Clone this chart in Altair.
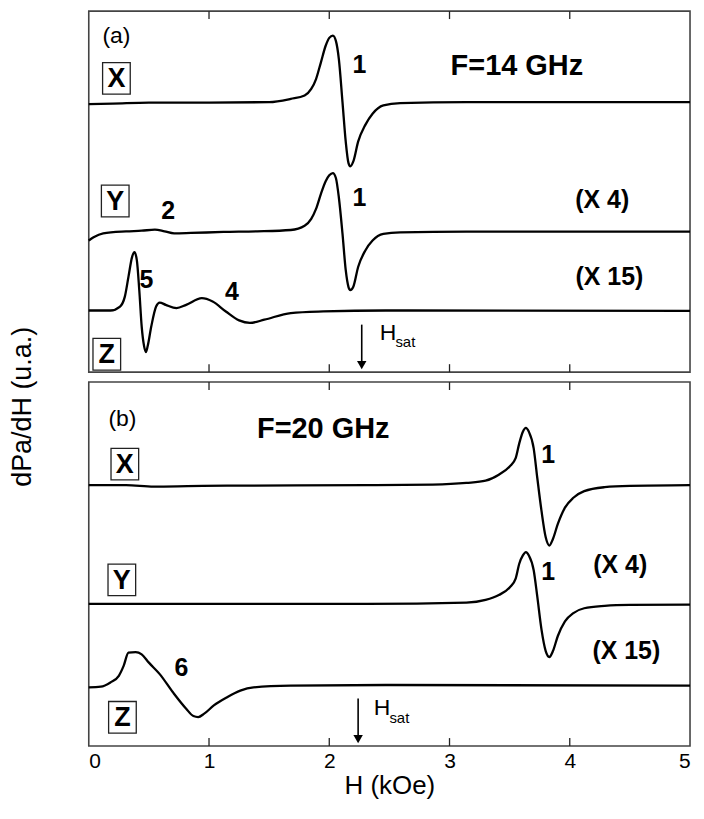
import altair as alt
import pandas as pd

FONT = "Liberation Sans"

# ---------------- data (H in kOe, signal in arbitrary units) ----------------
# Panel (a) F = 14 GHz
A_X_H = [0, 0.2, 0.5, 1.0, 1.5, 1.68, 1.795, 1.85, 1.89, 1.93, 1.97, 2.0, 2.03, 2.055, 2.08,
         2.11, 2.137, 2.16, 2.175, 2.2, 2.24, 2.3, 2.36, 2.45, 2.59, 3.14, 5.0]
A_X_V = [271, 271.5, 272.5, 272.5, 273, 276.3, 279.7, 286.3, 296.3, 313, 330, 338, 340.3, 335, 316.3,
         273, 233, 211.3, 208, 213, 233, 250, 261.3, 269.7, 272, 273, 273]

A_Y_H = [0, 0.04, 0.12, 0.31, 0.44, 0.55, 0.63, 0.71, 0.85, 1.12, 1.4, 1.68, 1.795, 1.85, 1.89,
         1.93, 1.97, 2.0, 2.03, 2.055, 2.08, 2.11, 2.137, 2.16, 2.175, 2.2, 2.24, 2.3, 2.36,
         2.45, 2.59, 3.14, 5.0]
A_Y_V = [133, 136.3, 140.3, 142.3, 143, 144, 142.3, 140.3, 140.7, 141.7, 142.3, 143.7, 148, 155, 165,
         180, 193, 199, 201.3, 196.3, 176.3, 140, 103, 86, 83, 86.3, 106.3, 123, 133,
         139.7, 141.3, 142, 142]

A_Z_H = [0, 0.18, 0.26, 0.3, 0.33, 0.36, 0.38, 0.40, 0.42, 0.44, 0.46, 0.475, 0.49, 0.52, 0.56,
         0.59, 0.64, 0.73, 0.81, 0.94, 1.03, 1.14, 1.25, 1.34, 1.46, 1.68, 1.95, 2.47, 5.0]
A_Z_V = [62.3, 62.3, 66.3, 76.3, 96.3, 116.3, 121.3, 113, 83, 46.3, 26.3, 20.3, 26.3, 46.3, 66.3,
         70.3, 68, 64.7, 68, 74.7, 71.3, 61.3, 52.3, 49.7, 53, 59.7, 61.3, 62.3, 62]

# Panel (b) F = 20 GHz
B_X_H = [0, 0.31, 0.54, 0.82, 1.15, 2.315, 2.86, 3.14, 3.3, 3.41, 3.5, 3.55, 3.58, 3.61, 3.635,
         3.66, 3.70, 3.73, 3.765, 3.80, 3.83, 3.86, 3.9, 3.96, 4.03, 4.12, 4.29, 4.5, 5.0]
B_X_V = [263.7, 263.7, 262.3, 262.7, 263.3, 263.7, 264.3, 266, 268.3, 274.3, 282.7, 291, 306, 317.7, 321.7,
         317.7, 301, 271, 237.7, 211, 202.7, 209.3, 224.3, 241, 251, 257.7, 261.7, 263, 263.7]

B_Y_H = [0, 2.315, 3.14, 3.3, 3.41, 3.5, 3.55, 3.58, 3.61, 3.635, 3.66, 3.70, 3.73, 3.765, 3.80,
         3.83, 3.86, 3.9, 3.96, 4.03, 4.12, 4.29, 4.5, 5.0]
B_Y_V = [143.7, 143.7, 145, 147.7, 152.7, 160.3, 169.3, 184.3, 192.7, 196, 192.7, 177.7, 151, 117.7, 96,
         90, 96, 111, 126, 134.3, 139.3, 141.7, 142.7, 143]

B_Z_H = [0, 0.1, 0.18, 0.25, 0.29, 0.33, 0.39, 0.44, 0.5, 0.59, 0.7, 0.81, 0.87, 0.91, 0.96,
         1.04, 1.15, 1.26, 1.37, 1.68, 2.47, 5.0]
B_Z_V = [59.3, 60, 64.3, 71, 81, 94.3, 95, 92.7, 84.3, 72.7, 54.3, 37.7, 30.3, 29.3, 32.7,
         41, 49.3, 56, 59.3, 61, 61.7, 61]

TICK_VALUES = [0, 1, 2, 3, 4, 5]
H_SAT = [2.27, 2.24]

# annotations
A_NUM_TEXT = ["1", "1", "2", "5", "4", "(X 4)", "(X 15)"]
A_NUM_H = [2.25, 2.25, 0.66, 0.48, 1.19, 4.27, 4.33]
A_NUM_Y = [311, 176, 163, 93, 81, 174, 96]
B_NUM_TEXT = ["1", "1", "6", "(X 4)", "(X 15)"]
B_NUM_H = [3.82, 3.82, 0.77, 4.42, 4.47]
B_NUM_Y = [294, 176, 79, 183, 96]

BOX_TEXT = ["X", "Y", "Z"]
A_BOX_H = [0.23, 0.22, 0.15]
A_BOX_Y = [297, 173, 18]
B_BOX_H = [0.30, 0.275, 0.28]
B_BOX_Y = [285, 168, 29]

PANEL_TAG = ["(a)", "(b)"]
TAG_H = [0.23, 0.28]
TAG_Y = [340, 331]
FREQ_TEXT = ["F=14 GHz", "F=20 GHz"]
FREQ_H = [3.56, 1.95]
FREQ_Y = [310, 321]
HSAT_LABEL_H = [2.42, 2.37]
HSAT_LABEL_Y = [40, 38]

TOP_DOMAIN, BOT_DOMAIN = 365, 368
TOP_H, BOT_H = 362, 365
W = 603


def curves_df(hs, vs, names):
    rows = []
    for h, v, n in zip(hs, vs, names):
        for a, b in zip(h, v):
            rows.append({"H": a, "v": b, "c": n})
    return pd.DataFrame(rows)


def panel(cdf, idx, num_text, num_h, num_y, box_h, box_y, dom, height, show_axis):
    xs = alt.Scale(domain=[0, 5], nice=False, zero=False)
    ys = alt.Scale(domain=[0, dom], nice=False, zero=False)
    if show_axis:
        xaxis = alt.Axis(values=TICK_VALUES, ticks=False, domain=False, grid=False,
                         labelFontSize=21, labelFont=FONT, labelColor="black", labelPadding=5,
                         title="H (kOe)", titleFontSize=26, titleFont=FONT,
                         titleFontWeight="normal", titleColor="black", titlePadding=1,
                         format="d")
    else:
        xaxis = None
    X = alt.X("H:Q", scale=xs, axis=xaxis)
    Y = alt.Y("v:Q", scale=ys, axis=None)

    lines = alt.Chart(cdf).mark_line(color="black", strokeWidth=2.3, interpolate="monotone").encode(
        x=X, y=Y, detail="c:N")

    tl = 8
    inner = TICK_VALUES[1:-1]
    tdf = pd.DataFrame({"H": inner * 2,
                        "v": [0] * len(inner) + [dom - tl] * len(inner),
                        "v2": [tl] * len(inner) + [dom] * len(inner)})
    ticks = alt.Chart(tdf).mark_rule(color="#222", strokeWidth=1.3).encode(
        x=X, y=Y, y2="v2:Q")

    bdf = pd.DataFrame({"t": BOX_TEXT, "H": box_h, "v": box_y})
    bw = 14 / 121.8
    bdf["H1"] = bdf["H"] - bw
    bdf["H2"] = bdf["H"] + bw
    bdf["v1"] = bdf["v"] - 16
    bdf["v2"] = bdf["v"] + 16
    boxes = alt.Chart(bdf).mark_rect(fill="white", stroke="#222", strokeWidth=1.3).encode(
        x=alt.X("H1:Q", scale=xs, axis=xaxis), x2="H2:Q",
        y=alt.Y("v1:Q", scale=ys, axis=None), y2="v2:Q")
    boxtxt = alt.Chart(bdf).mark_text(font=FONT, fontSize=27, fontWeight="bold", color="black",
                                      baseline="middle", align="center", dy=1).encode(
        x=X, y=Y, text="t:N")

    ndf = pd.DataFrame({"t": num_text, "H": num_h, "v": num_y})
    nums = alt.Chart(ndf).mark_text(font=FONT, fontSize=25, fontWeight="bold", color="black",
                                    baseline="middle", align="center").encode(
        x=X, y=Y, text="t:N")

    tag = alt.Chart(pd.DataFrame({"t": [PANEL_TAG[idx]], "H": [TAG_H[idx]], "v": [TAG_Y[idx]]})).mark_text(
        font=FONT, fontSize=23, color="black", baseline="middle", align="center").encode(
        x=X, y=Y, text="t:N")
    freq = alt.Chart(pd.DataFrame({"t": [FREQ_TEXT[idx]], "H": [FREQ_H[idx]], "v": [FREQ_Y[idx]]})).mark_text(
        font=FONT, fontSize=29, fontWeight="bold", color="black", baseline="middle", align="center").encode(
        x=X, y=Y, text="t:N")

    adf = pd.DataFrame({"H": [H_SAT[idx]], "v": [7], "v2": [48]})
    arrow = alt.Chart(adf).mark_rule(color="black", strokeWidth=1.6).encode(
        x=X, y=Y, y2="v2:Q")
    head = alt.Chart(adf).mark_point(shape="triangle-down", filled=True, color="black",
                                     size=90, opacity=1).encode(x=X, y=Y)

    hdf = pd.DataFrame({"t": ["H"], "H": [HSAT_LABEL_H[idx]], "v": [HSAT_LABEL_Y[idx]]})
    htxt = alt.Chart(hdf).mark_text(font=FONT, fontSize=23, color="black", baseline="middle",
                                    align="left").encode(x=X, y=Y, text="t:N")
    sdf = pd.DataFrame({"t": ["sat"], "H": [HSAT_LABEL_H[idx] + 0.13], "v": [HSAT_LABEL_Y[idx] - 10]})
    stxt = alt.Chart(sdf).mark_text(font=FONT, fontSize=15, color="black", baseline="middle",
                                    align="left").encode(x=X, y=Y, text="t:N")

    layers = [lines, ticks, boxes, boxtxt, nums, tag, freq, arrow, head, htxt, stxt]
    if show_axis:
        ydf = pd.DataFrame({"t": ["dPa/dH (u.a.)"], "v": [343]})
        ytitle = alt.Chart(ydf).mark_text(font=FONT, fontSize=27, color="black", angle=270,
                                          baseline="middle", align="center").encode(
            x=alt.value(-66), y=Y, text="t:N")
        layers.append(ytitle)
    return alt.layer(*layers).properties(width=W, height=height)


top_df = curves_df([A_X_H, A_Y_H, A_Z_H], [A_X_V, A_Y_V, A_Z_V], ["X", "Y", "Z"])
bot_df = curves_df([B_X_H, B_Y_H, B_Z_H], [B_X_V, B_Y_V, B_Z_V], ["X", "Y", "Z"])

top = panel(top_df, 0, A_NUM_TEXT, A_NUM_H, A_NUM_Y, A_BOX_H, A_BOX_Y, TOP_DOMAIN, TOP_H, False)
bot = panel(bot_df, 1, B_NUM_TEXT, B_NUM_H, B_NUM_Y, B_BOX_H, B_BOX_Y, BOT_DOMAIN, BOT_H, True)

chart = alt.vconcat(top, bot, spacing=10, bounds="flush").properties(
    padding={"left": 0, "top": 0, "right": 0, "bottom": 0}
).configure_view(stroke="#444", strokeWidth=1.6)

chart.save("out.html", embed_options={"renderer": "svg", "actions": False})
